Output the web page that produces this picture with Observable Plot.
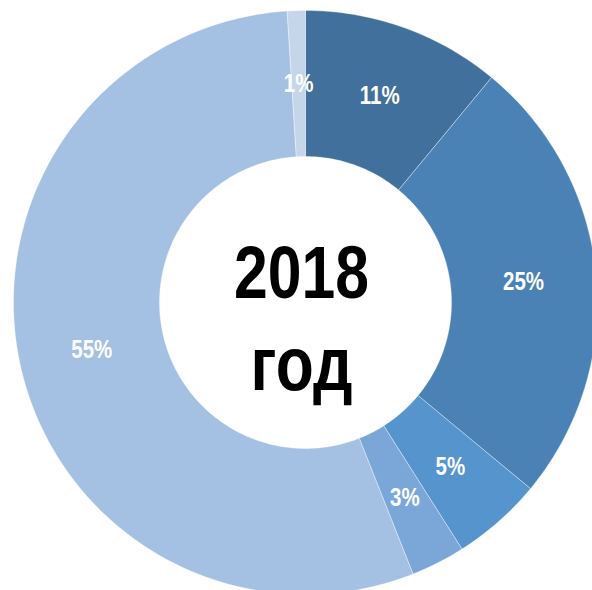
<!DOCTYPE html>
<html>
<head>
<meta charset="utf-8">
<script src="https://cdn.jsdelivr.net/npm/d3@7"></script>
<script src="https://cdn.jsdelivr.net/npm/@observablehq/plot@0.6"></script>
<style>
  html, body { margin: 0; padding: 0; background: #ffffff; }
  #chart svg { display: block; }
</style>
</head>
<body>
<div id="chart"></div>
<script>
// Data
const sliceIds = ["s1", "s2", "s3", "s4", "s5", "s6"];
const shares = [11, 25, 5, 3, 55, 1];
const shareLabels = ["11%", "25%", "5%", "3%", "55%", "1%"];
const sliceColors = ["#41709c", "#4a82b6", "#5594cc", "#7ba7d8", "#a4c0e3", "#c5d6eb"];
const centerLines = ["2018", "год"];

// Layout geometry (pixel frame)
const W = 592, H = 590;
const cx = 305, cy = 302, R = 292;
const innerRatio = 146 / 292;
const labelRatio = 0.75;
const font = "'Liberation Sans', Arial, sans-serif";
const narrow = 0.82;

// Build slice polygons from the shares (unit coordinates, y up)
const total = d3.sum(shares);
const polys = [];
const labels = [];
let cum = 0;
shares.forEach((v, i) => {
  const a0 = cum / total * 2 * Math.PI;
  const a1 = (cum + v) / total * 2 * Math.PI;
  const n = Math.max(4, Math.ceil(v * 3));
  const pts = [];
  for (let k = 0; k <= n; k++) {
    const a = a0 + (a1 - a0) * k / n;
    pts.push({id: sliceIds[i], x: Math.sin(a), y: Math.cos(a)});
  }
  for (let k = n; k >= 0; k--) {
    const a = a0 + (a1 - a0) * k / n;
    pts.push({id: sliceIds[i], x: innerRatio * Math.sin(a), y: innerRatio * Math.cos(a)});
  }
  pts.push({...pts[0]});
  polys.push(...pts);
  const am = (a0 + a1) / 2;
  labels.push({text: shareLabels[i], x: labelRatio * Math.sin(am), y: labelRatio * Math.cos(am)});
  cum += v;
});

const chart = Plot.plot({
  width: W,
  height: H,
  margin: 0,
  x: {domain: [-cx / R, (W - cx) / R], range: [0, W], axis: null},
  y: {domain: [-(H - cy) / R, cy / R], range: [H, 0], axis: null},
  color: {domain: sliceIds, range: sliceColors},
  marks: [
    Plot.line(polys, {x: "x", y: "y", z: "id", fill: "id", stroke: "#ffffff", strokeWidth: 0.6, strokeOpacity: 0.6}),
    Plot.text(labels, {x: "x", y: "y", text: "text", fill: "#ffffff", fontSize: 25, fontWeight: "bold", fontFamily: font}),
    Plot.text([centerLines[0]], {x: () => 0, y: () => 0, text: d => d, fill: "#000000", fontSize: 74, fontWeight: "bold", fontFamily: font, lineAnchor: "bottom", dx: -4, dy: -5}),
    Plot.text([centerLines[1]], {x: () => 0, y: () => 0, text: d => d, fill: "#000000", fontSize: 76, fontWeight: "bold", fontFamily: font, lineAnchor: "bottom", dx: -4, dy: 87})
  ]
});

// Narrow (condensed) lettering: squeeze each text horizontally around its anchor
d3.select(chart).selectAll("text").each(function() {
  const tr = this.getAttribute("transform") || "";
  this.setAttribute("transform", `${tr} scale(${narrow},1)`);
});
document.getElementById("chart").appendChild(chart);
</script>
</body>
</html>
